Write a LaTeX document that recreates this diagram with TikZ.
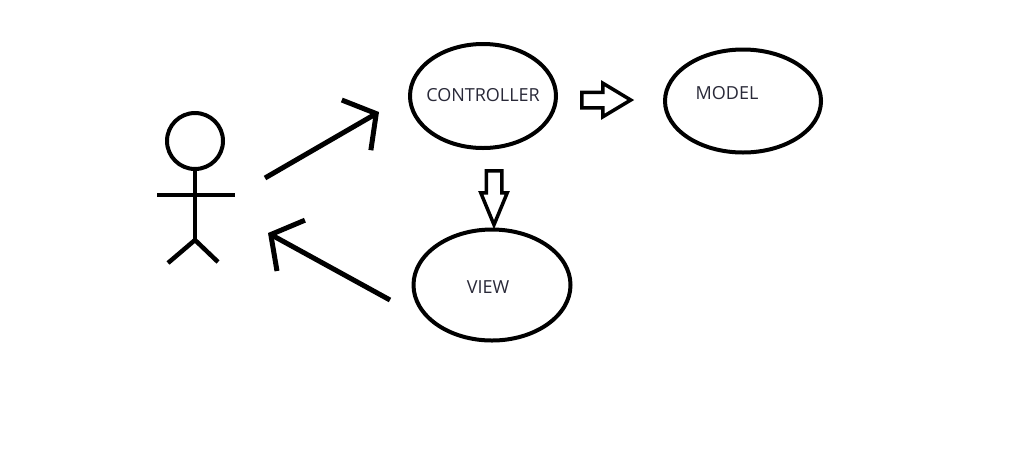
\documentclass[tikz,border=0pt]{standalone}
\usepackage{fontspec}
\setmainfont{Open Sans}
\usetikzlibrary{shapes.geometric,shapes.arrows,arrows.meta}
\definecolor{inktext}{rgb}{0.16,0.16,0.22}
\tikzset{
	part/.style={ellipse,draw,line width=4pt,inner sep=0pt},
	parttext/.style={font=\fontsize{18}{20}\selectfont,text=inktext},
	userarrow/.style={line width=5pt,-{Straight Barb[length=23pt,width=58pt]}},
	flow/.style={single arrow,draw,line width=3.5pt,inner sep=6pt,minimum width=0pt}
}
\begin{document}
\begin{tikzpicture}[x=1pt,y=-1pt]
				\useasboundingbox(0,0)rectangle(1024,467);
				% the user
				\node[circle,draw,line width=4pt,minimum size=56pt,inner sep=0pt](head)at(195,141){};
				\draw[line width=4.5pt](head.south)--(195,240)coordinate(hip);
				\draw[line width=4.5pt](157,195)--(235,195);
				\draw[line width=4.5pt](168,263)--(hip)--(218,262);
				% the three parts
				\node[part,minimum width=146pt,minimum height=104pt,label={[parttext,yshift=1pt]center:CONTROLLER}](ctrl)at(483,96){};
				\node[part,minimum width=156pt,minimum height=103pt,label={[parttext,xshift=-16pt,yshift=8pt]center:MODEL}](model)at(743,101){};
				\node[part,minimum width=157pt,minimum height=111pt,label={[parttext,xshift=-4pt,yshift=-2pt]center:VIEW}](view)at(492,285){};
				% arrows
				\coordinate(reqfrom)at(265,178);
				\coordinate(reqto)at(379,112);
				\coordinate(ansfrom)at(390,300);
				\coordinate(ansto)at(268,233);
				\draw[userarrow](reqfrom)--(reqto);
				\draw[userarrow](ansfrom)--(ansto);
				\node[flow,anchor=tail,minimum height=49pt,single arrow head extend=9pt,single arrow tip angle=62](tomodel)at(580,100){};
				\node[flow,anchor=tail,minimum height=54pt,single arrow head extend=5.5pt,single arrow tip angle=45,shape border rotate=270](toview)at(494,169){};
			\end{tikzpicture}
\end{document}
